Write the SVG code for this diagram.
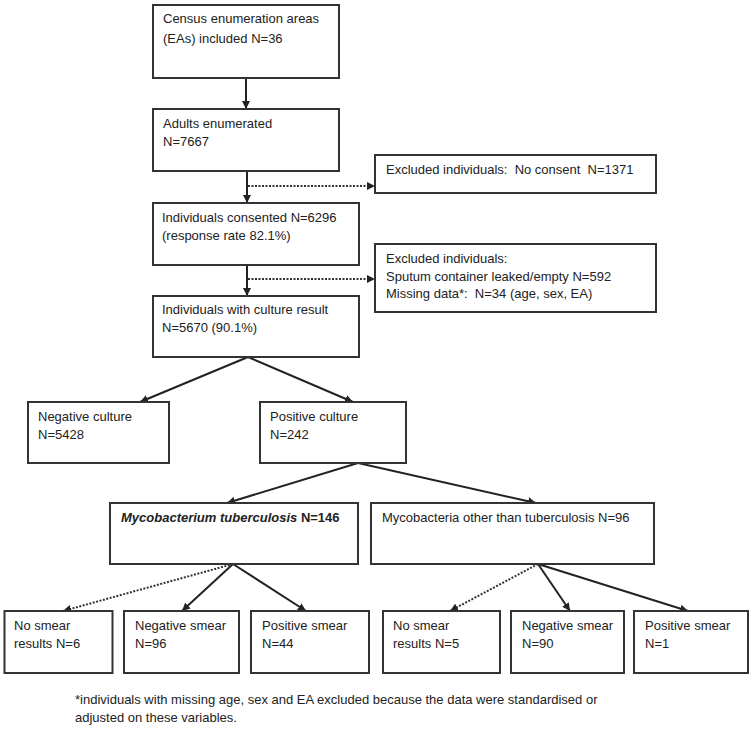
<svg xmlns="http://www.w3.org/2000/svg" width="755" height="732" viewBox="0 0 755 732">
<style>
.box{fill:#fff;stroke:#333;stroke-width:2}
.t{font-family:"Liberation Sans",Arial,sans-serif;font-size:13px;fill:#222;white-space:pre}
.fn{font-family:"Liberation Sans",Arial,sans-serif;font-size:13px;fill:#222}
.ln{fill:none;stroke:#222;stroke-width:2}
.dot{fill:none;stroke:#333;stroke-width:2;stroke-dasharray:2,1.5}
</style>
<defs>
<marker id="ah" viewBox="0 0 10 10" refX="10" refY="5" markerWidth="8" markerHeight="8" markerUnits="userSpaceOnUse" orient="auto">
<path d="M0,0 L10,5 L0,10 z" fill="#222"/>
</marker>
</defs>
<g id="connectors">
<line class="ln" x1="246" y1="78" x2="246" y2="109" marker-end="url(#ah)"/>
<line class="ln" x1="247" y1="171" x2="247" y2="203" marker-end="url(#ah)"/>
<line class="dot" x1="248" y1="186" x2="375" y2="186" marker-end="url(#ah)"/>
<line class="ln" x1="247" y1="265" x2="247" y2="296" marker-end="url(#ah)"/>
<line class="dot" x1="248" y1="279" x2="375" y2="279" marker-end="url(#ah)"/>
<line class="ln" x1="248" y1="357" x2="140" y2="402" marker-end="url(#ah)"/>
<line class="ln" x1="248" y1="357" x2="353" y2="402" marker-end="url(#ah)"/>
<line class="ln" x1="358" y1="463" x2="227" y2="503" marker-end="url(#ah)"/>
<line class="ln" x1="358" y1="463" x2="536" y2="503" marker-end="url(#ah)"/>
<line class="dot" x1="233" y1="564" x2="63" y2="611" marker-end="url(#ah)"/>
<line class="ln" x1="233" y1="564" x2="182" y2="611" marker-end="url(#ah)"/>
<line class="ln" x1="233" y1="564" x2="306" y2="611" marker-end="url(#ah)"/>
<line class="dot" x1="538" y1="564" x2="450" y2="611" marker-end="url(#ah)"/>
<line class="ln" x1="538" y1="564" x2="570" y2="611" marker-end="url(#ah)"/>
<line class="ln" x1="538" y1="564" x2="688" y2="611" marker-end="url(#ah)"/>
</g>
<g id="n1"><rect class="box" x="153" y="5" width="186" height="73"/>
<text class="t" x="163" y="23">Census enumeration areas</text>
<text class="t" x="163" y="43">(EAs) included N=36</text></g>
<g id="n2"><rect class="box" x="153" y="109" width="186" height="62"/>
<text class="t" x="163" y="128">Adults enumerated</text>
<text class="t" x="163" y="146">N=7667</text></g>
<g id="x1"><rect class="box" x="375" y="155" width="281" height="38"/>
<text class="t" x="386" y="174">Excluded individuals:  No consent  N=1371</text></g>
<g id="n3"><rect class="box" x="153" y="203" width="206" height="62"/>
<text class="t" x="162" y="222">Individuals consented N=6296</text>
<text class="t" x="162" y="240">(response rate 82.1%)</text></g>
<g id="x2"><rect class="box" x="375" y="244" width="281" height="68"/>
<text class="t" x="386" y="263">Excluded individuals:</text>
<text class="t" x="386" y="281">Sputum container leaked/empty N=592</text>
<text class="t" x="386" y="298">Missing data*:  N=34 (age, sex, EA)</text></g>
<g id="n4"><rect class="box" x="153" y="296" width="206" height="61"/>
<text class="t" x="162" y="314">Individuals with culture result</text>
<text class="t" x="162" y="332">N=5670 (90.1%)</text></g>
<g id="neg"><rect class="box" x="28" y="402" width="141" height="61"/>
<text class="t" x="38" y="421">Negative culture</text>
<text class="t" x="38" y="439">N=5428</text></g>
<g id="pos"><rect class="box" x="260" y="402" width="146" height="61"/>
<text class="t" x="270" y="421">Positive culture</text>
<text class="t" x="270" y="439">N=242</text></g>
<g id="mtb"><rect class="box" x="110" y="503" width="248" height="61"/>
<text class="t" x="121" y="522" font-weight="bold" font-size="12.5"><tspan font-style="italic">Mycobacterium tuberculosis</tspan> N=146</text></g>
<g id="mott"><rect class="box" x="371" y="503" width="283" height="61"/>
<text class="t" x="382" y="522" font-size="13.4">Mycobacteria other than tuberculosis N=96</text></g>
<g id="s1"><rect class="box" x="4.5" y="611" width="108" height="62"/>
<text class="t" x="14" y="630">No smear</text>
<text class="t" x="14" y="648">results N=6</text></g>
<g id="s2"><rect class="box" x="124" y="611" width="115" height="62"/>
<text class="t" x="135" y="630">Negative smear</text>
<text class="t" x="135" y="648">N=96</text></g>
<g id="s3"><rect class="box" x="251" y="611" width="118" height="62"/>
<text class="t" x="262" y="630">Positive smear</text>
<text class="t" x="262" y="648">N=44</text></g>
<g id="s4"><rect class="box" x="383" y="611" width="117" height="62"/>
<text class="t" x="393" y="630">No smear</text>
<text class="t" x="393" y="648">results N=5</text></g>
<g id="s5"><rect class="box" x="511" y="611" width="113" height="62"/>
<text class="t" x="522" y="630">Negative smear</text>
<text class="t" x="522" y="648">N=90</text></g>
<g id="s6"><rect class="box" x="634" y="611" width="114" height="62"/>
<text class="t" x="645" y="630">Positive smear</text>
<text class="t" x="645" y="648">N=1</text></g>
<g id="footnote">
<text class="fn" x="75" y="704">*individuals with missing age, sex and EA excluded because the data were standardised or</text>
<text class="fn" x="75" y="722">adjusted on these variables.</text>
</g>
</svg>
